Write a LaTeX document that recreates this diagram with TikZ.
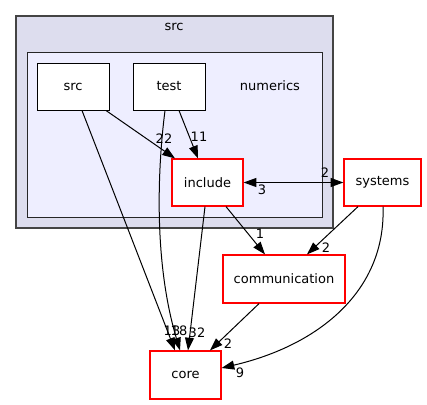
\documentclass[tikz,border=0pt]{standalone}
\usepackage{fontspec}
\setmainfont{DejaVu Sans}
\usetikzlibrary{arrows.meta,calc}
\definecolor{outerfill}{HTML}{DDDDEE}
\definecolor{innerfill}{HTML}{EEEEFF}
\definecolor{clborder}{HTML}{444444}
\definecolor{redb}{HTML}{FF0000}
\tikzset{
  px/.style={x=0.75pt,y=-0.75pt},
  dirbox/.style={draw=black,fill=white,line width=0.75pt,inner sep=0pt,font=\fontsize{9.75}{11}\selectfont},
  redbox/.style={draw=redb,fill=white,line width=0.9pt,inner sep=0pt,font=\fontsize{9.75}{11}\selectfont},
  tip/.tip={Triangle[length=9.5pt,width=6.7pt]},
  edge/.style={line width=0.75pt,-tip},
  lbl/.style={inner sep=0pt,font=\fontsize{9.75}{11}\selectfont},
  cltext/.style={inner sep=0pt,font=\fontsize{9.75}{11}\selectfont}
}
\begin{document}
\begin{tikzpicture}[px]
\useasboundingbox (0,0) rectangle (427,404);
% clusters
\draw[fill=outerfill,draw=clborder,line width=0.9pt] (16,16) rectangle (333,228);
\node[cltext] (srcl) at (174,27) {src};
\draw[fill=innerfill,draw=black!85,line width=0.75pt] (27,52) rectangle (322,217);
\node[cltext] (numl) at (270,86) {numerics};
% nodes
\node[dirbox,minimum width=54pt,minimum height=35.25pt] (src) at (73,86.5) {src};
\node[dirbox,minimum width=54pt,minimum height=35.25pt] (test) at (169,86.5) {test};
\node[redbox,minimum width=53.25pt,minimum height=35.25pt] (inc) at (207.5,182.5) {include};
\node[redbox,minimum width=57.75pt,minimum height=35.25pt] (sys) at (382.5,182.5) {systems};
\node[redbox,minimum width=91.5pt,minimum height=36pt] (com) at (284,279) {communication};
\node[redbox,minimum width=53.25pt,minimum height=36pt] (core) at (185.5,375) {core};
% edges
\draw[edge] ($(src.south)+(9,0)$) -- ($(core.north)+(-10.5,0)$);
\draw[edge] ($(test.south)+(-4,0)$) .. controls (158,165) and (153,260) .. ($(core.north)+(-5.5,0)$);
\draw[edge] ($(inc.south)+(-2.5,0)$) -- ($(core.north)+(2.5,0)$);
\draw[edge] ($(src.south)+(33,0)$) -- ($(inc.north)+(-32.5,0)$);
\draw[edge] ($(test.south)+(10,0)$) -- ($(inc.north)+(-9.5,0)$);
\draw[line width=0.75pt,tip-tip] (inc.east) -- (sys.west);
\draw[edge] ($(inc.south)+(18.5,0)$) -- ($(com.north)+(-19,0)$);
\draw[edge] ($(sys.south)+(-24.5,0)$) -- ($(com.north)+(23,0)$);
\draw[edge] ($(com.south)+(-25,0)$) -- ($(core.north)+(24.5,0)$);
\draw[edge] ($(sys.south)+(0.5,0)$) .. controls (386,290) and (320,345) .. ($(core.east)+(0,-7)$);
% labels
\node[lbl] (l13) at (172,331) {13};
\node[lbl] (l18) at (179,331) {18};
\node[lbl] (l32) at (197,333) {32};
\node[lbl] (l22) at (164,139) {22};
\node[lbl] (l11) at (199,137) {11};
\node[lbl] (l2a) at (325,173) {2};
\node[lbl] (l3) at (262,190) {3};
\node[lbl] (l1) at (260,234) {1};
\node[lbl] (l2b) at (326,248) {2};
\node[lbl] (l2c) at (228,344) {2};
\node[lbl] (l9) at (240,373) {9};
\end{tikzpicture}
\end{document}
